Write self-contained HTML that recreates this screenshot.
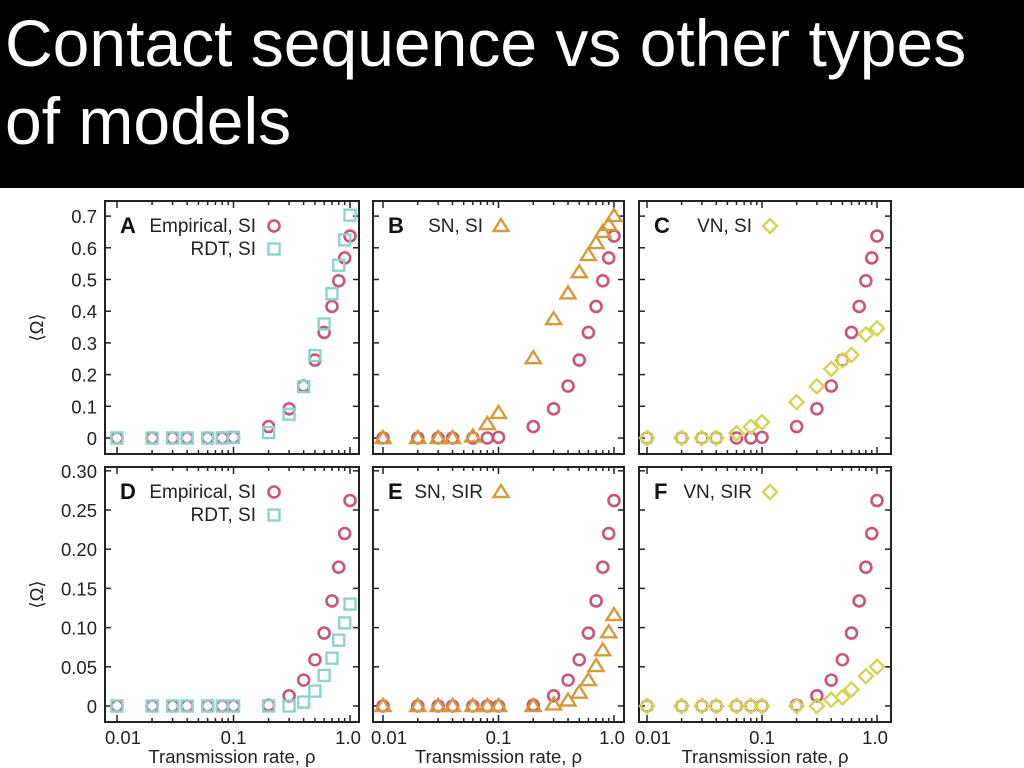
<!DOCTYPE html>
<html><head><meta charset="utf-8"><style>
html,body{margin:0;padding:0;background:#fff;width:1024px;height:768px;overflow:hidden}
#title{position:absolute;left:0;top:0;width:1024px;height:188px;background:#000;color:#fff;font-family:"Liberation Sans",sans-serif;font-size:66px;line-height:78px;padding:4px 0 0 5px;box-sizing:border-box;white-space:nowrap}
svg{position:absolute;left:0;top:0}
text{font-family:"Liberation Sans",sans-serif}
</style></head><body>
<div id="title">Contact sequence vs other types<br>of models</div>
<svg id="chart" width="1024" height="768"></svg>
<script>
const xAll = [0.01,0.02,0.03,0.04,0.06,0.08,0.1,0.2,0.3,0.4,0.5,0.6,0.7,0.8,0.9,1.0];
const xVN = [0.01,0.02,0.03,0.04,0.06,0.08,0.1,0.2,0.3,0.4,0.5,0.6,0.8,1.0];
const empSI = [0,0,0,0,0,0,0.002,0.036,0.092,0.164,0.246,0.333,0.415,0.496,0.568,0.637];
const rdtSI = [0,0,0,0,0,0,0.002,0.017,0.075,0.162,0.26,0.36,0.455,0.545,0.625,0.703];
const snSI = [0,0,0,0,0.005,0.044,0.079,0.252,0.375,0.456,0.523,0.577,0.615,0.65,0.672,0.7];
const vnSI = [0,0,0,0,0.015,0.035,0.05,0.113,0.163,0.218,0.245,0.262,0.327,0.346];
const empSIR = [0,0,0,0,0,0,0,0.001,0.013,0.033,0.059,0.093,0.134,0.177,0.22,0.262];
const rdtSIR = [0,0,0,0,0,0,0,0,0,0.005,0.019,0.039,0.061,0.084,0.106,0.13];
const snSIR = [0,0,0,0,0,0,0,0,0.002,0.007,0.017,0.033,0.051,0.071,0.094,0.116];
const vnSIR = [0,0,0,0,0,0,0,0,0,0.008,0.011,0.021,0.038,0.05];
const topTicks = [0,0.1,0.2,0.3,0.4,0.5,0.6,0.7];
const topTickLabels = ["0","0.1","0.2","0.3","0.4","0.5","0.6","0.7"];
const botTicks = [0,0.05,0.1,0.15,0.2,0.25,0.3];
const botTickLabels = ["0","0.05","0.10","0.15","0.20","0.25","0.30"];
const xTickVals = [0.01,0.1,1.0];
const xTickLabels = ["0.01","0.1","1.0"];

const NS="http://www.w3.org/2000/svg";
const svg=document.getElementById('chart');
const C={emp:'#c9567a',rdt:'#8ed2cd',sn:'#d49a3c',vn:'#d3d457'};
function el(t,a,p){const e=document.createElementNS(NS,t);for(const k in a)e.setAttribute(k,a[k]);(p||svg).appendChild(e);return e;}

const cols=[{l:105,r:359,x0:117,x1:350},{l:373,r:624,x0:383,x1:614},{l:639,r:891,x0:647,x1:877}];
const rows=[{t:201,b:454,y0:438,k:317,ticks:topTicks,labs:topTickLabels},{t:467,b:722,y0:706,k:784,ticks:botTicks,labs:botTickLabels}];

function mk(g,kind,cx,cy){
  let m;
  if(kind==='emp'){m=el('circle',{cx:cx,cy:cy,r:5.5,fill:'none',stroke:C.emp,'stroke-width':2.6},g);}
  else if(kind==='rdt'){m=el('rect',{x:cx-5.5,y:cy-5.5,width:11,height:11,fill:'none',stroke:C.rdt,'stroke-width':2.4},g);}
  else if(kind==='sn'){m=el('polygon',{points:`${cx},${cy-7} ${cx+7.5},${cy+5} ${cx-7.5},${cy+5}`,fill:'none',stroke:C.sn,'stroke-width':2.4},g);}
  else {m=el('polygon',{points:`${cx},${cy-7} ${cx+7},${cy} ${cx},${cy+7} ${cx-7},${cy}`,fill:'none',stroke:C.vn,'stroke-width':2.4},g);}
  return m;
}

const panels=[
 {c:0,r:0,L:'A',series:[['emp',xAll,empSI],['rdt',xAll,rdtSI]],leg:[['Empirical, SI','emp'],['RDT, SI','rdt']]},
 {c:1,r:0,L:'B',series:[['emp',xAll,empSI],['sn',xAll,snSI]],leg:[['SN, SI','sn']]},
 {c:2,r:0,L:'C',series:[['emp',xAll,empSI],['vn',xVN,vnSI]],leg:[['VN, SI','vn']]},
 {c:0,r:1,L:'D',series:[['emp',xAll,empSIR],['rdt',xAll,rdtSIR]],leg:[['Empirical, SI','emp'],['RDT, SI','rdt']]},
 {c:1,r:1,L:'E',series:[['emp',xAll,empSIR],['sn',xAll,snSIR]],leg:[['SN, SIR','sn']]},
 {c:2,r:1,L:'F',series:[['emp',xAll,empSIR],['vn',xVN,vnSIR]],leg:[['VN, SIR','vn']]}
];

panels.forEach(p=>{
  const c=cols[p.c],r=rows[p.r];
  const g=el('g',{});
  
  
  const X=v=>c.x0+(Math.log10(v)+2)/2*(c.x1-c.x0);
  const Y=v=>r.y0-v*r.k;
  el('rect',{x:c.l,y:r.t,width:c.r-c.l,height:r.b-r.t,fill:'none',stroke:'#222','stroke-width':2},g);
  for(let d=-2;d<0;d++)for(let m=1;m<10;m++){
    const v=m*Math.pow(10,d),x=X(v),len=m===1?7:4;
    el('line',{x1:x,x2:x,y1:r.b,y2:r.b-len,stroke:'#222','stroke-width':1.5},g);
    el('line',{x1:x,x2:x,y1:r.t,y2:r.t+len,stroke:'#222','stroke-width':1.5},g);
  }
  [1].forEach(v=>{const x=X(v);el('line',{x1:x,x2:x,y1:r.b,y2:r.b-7,stroke:'#222','stroke-width':1.5},g);el('line',{x1:x,x2:x,y1:r.t,y2:r.t+7,stroke:'#222','stroke-width':1.5},g);});
  r.ticks.forEach((v,i)=>{
    const y=Y(v);
    el('line',{x1:c.l,x2:c.l+6,y1:y,y2:y,stroke:'#222','stroke-width':1.5},g);
    el('line',{x1:c.r,x2:c.r-6,y1:y,y2:y,stroke:'#222','stroke-width':1.5},g);
    if(p.c===0){const t=el('text',{x:c.l-8,y:y+7,'text-anchor':'end','font-size':18.5,fill:'#222'},g);t.textContent=r.labs[i];
      
      }
  });
  if(p.r===1){
    xTickVals.forEach((v,i)=>{const t=el('text',{x:X(v)+(i===0?6:i===2?-2:0),y:744,'text-anchor':'middle','font-size':18.5,fill:'#222'},g);t.textContent=xTickLabels[i];
      
      });
    const t=el('text',{x:(c.l+c.r)/2,y:763,'text-anchor':'middle','font-size':18.5,fill:'#222'},g);t.textContent='Transmission rate, ρ';
    
    
  }
  if(p.c===0){
    const yc=(r.t+r.b)/2;
    const t=el('text',{x:0,y:0,transform:`translate(43,${yc}) rotate(-90)`,'text-anchor':'middle','font-size':18.5,fill:'#222'},g);t.textContent='⟨Ω⟩';
    
    
  }
  p.series.forEach(s=>{
    const [kind,xs,ys]=s;
    ys.forEach((v,i)=>{const m=mk(g,kind,X(xs[i]),Y(v));
      
      });
  });
  const lt=el('text',{x:c.l+15,y:r.t+32,'font-size':22,'font-weight':'bold',fill:'#111'},g);lt.textContent=p.L;
  
  
  p.leg.forEach((lg,i)=>{
    const my=r.t+25+i*23;
    const mx=c.l+(p.leg.length===2?169:128+(p.c===2?3:0));
    const t=el('text',{x:mx-18,y:my+6,'text-anchor':'end','font-size':19,fill:'#222'},g);t.textContent=lg[0];
    
    
    const m=mk(g,lg[1],mx,my);
    
    
  });
});
</script>
</body></html>
